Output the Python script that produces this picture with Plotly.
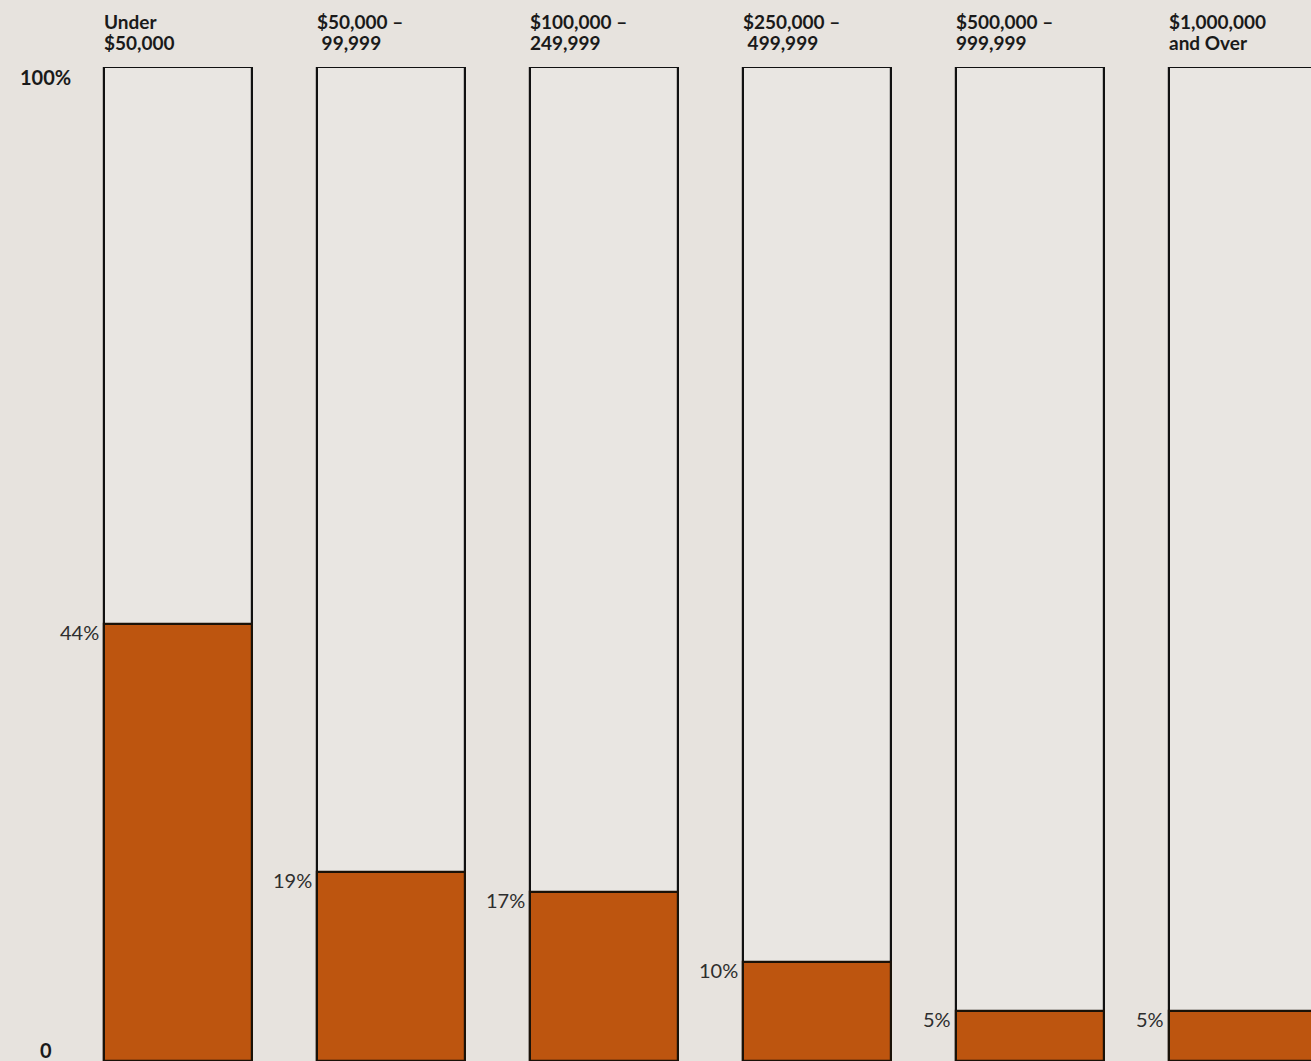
import plotly.graph_objects as go

# Share of respondents in each size bracket
brackets_line1 = ["Under", "$50,000 \u2013", "$100,000 \u2013", "$250,000 \u2013", "$500,000 \u2013", "$1,000,000"]
brackets_line2 = ["$50,000", "\u00a099,999", "249,999", "\u00a0499,999", "999,999", "and Over"]
shares = [44, 19, 17, 10, 5, 5]
full_scale = [100, 100, 100, 100, 100, 100]
share_labels = [f"{v}%" for v in shares]

BG = "#e7e3de"
BOX = "#e9e6e2"
ORANGE = "#bd550f"
FONT = "Lato"
BAR_W = 0.695

x = list(range(len(shares)))

fig = go.Figure()

# Full-height outlined column for each bracket
fig.add_trace(go.Bar(
    x=x, y=full_scale, width=BAR_W,
    marker=dict(color=BOX, line=dict(color="#111111", width=2.2)),
    hoverinfo="skip", showlegend=False,
))

# Filled portion showing the share
fig.add_trace(go.Bar(
    x=x, y=shares, width=BAR_W,
    marker=dict(color=ORANGE, line=dict(color="#1a1208", width=2.2)),
    hoverinfo="skip", showlegend=False,
))

annotations = []
for i, (l1, l2) in enumerate(zip(brackets_line1, brackets_line2)):
    left = i - BAR_W / 2
    for text, shift in ((l1, 46), (l2, 25)):
        annotations.append(dict(
            x=left, xref="x", xanchor="left", xshift=-2,
            y=1, yref="paper", yanchor="middle", yshift=shift,
            text=text, showarrow=False,
            font=dict(family=FONT, size=19, color="#1a1a1a", weight=700),
        ))

for i, (v, lab) in enumerate(zip(shares, share_labels)):
    annotations.append(dict(
        x=i - BAR_W / 2, xref="x", xanchor="right", xshift=-3,
        y=v, yref="y", yanchor="middle", yshift=-8,
        text=lab, showarrow=False,
        font=dict(family=FONT, size=20, color="#2e2e2e", weight=400),
    ))

# Scale end labels
annotations.append(dict(
    x=73 / 1311, xref="paper", xanchor="right",
    y=100, yref="y", yanchor="middle", yshift=-10,
    text="100%", showarrow=False,
    font=dict(family=FONT, size=20, color="#1a1a1a", weight=700),
))
annotations.append(dict(
    x=46 / 1311, xref="paper", xanchor="center",
    y=0, yref="y", yanchor="middle", yshift=11,
    text="0", showarrow=False,
    font=dict(family=FONT, size=20, color="#1a1a1a", weight=700),
))

fig.update_layout(
    width=1311, height=1061,
    margin=dict(l=0, r=0, t=67, b=0),
    paper_bgcolor=BG, plot_bgcolor=BG,
    barmode="overlay", bargap=0,
    xaxis=dict(range=[-178 / 213, (1311 - 178) / 213], visible=False, fixedrange=True),
    yaxis=dict(range=[0, 100], visible=False, fixedrange=True),
    annotations=annotations,
)

fig.write_html("out.html")
